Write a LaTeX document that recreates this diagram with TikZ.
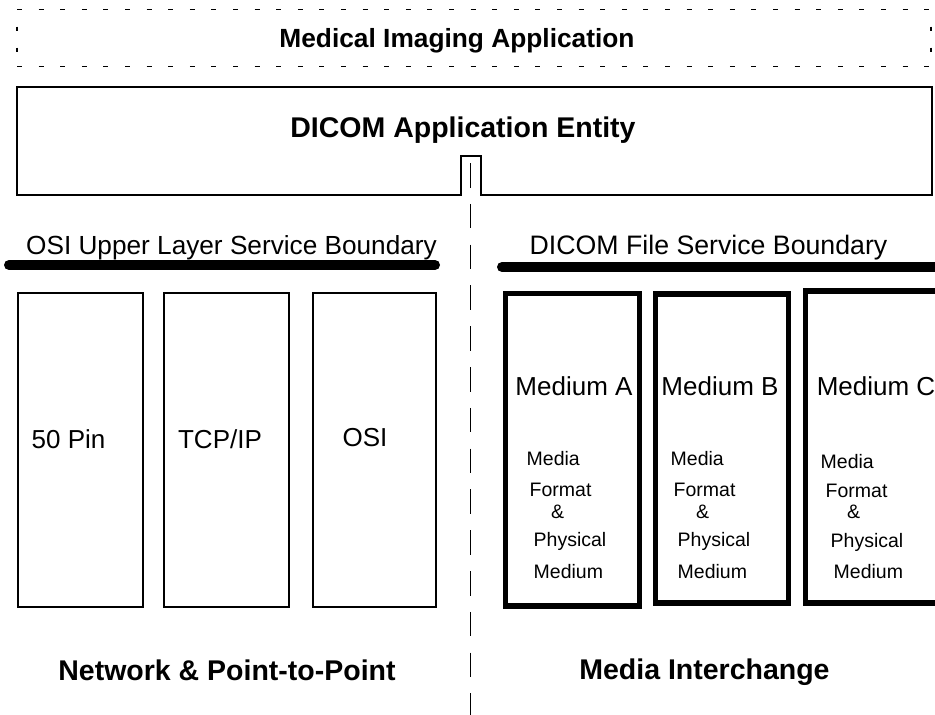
\documentclass[tikz,border=0pt]{standalone}
\usepackage{fontspec}
\setmainfont{Liberation Sans}
\begin{document}
\begin{tikzpicture}[x=1pt,y=-1pt,
  thinbox/.style={draw, line width=2pt},
  thickbox/.style={draw, line width=5.5pt},
  dashh/.style={line width=1.3pt, dash pattern=on 5pt off 16.6pt},
  dashv/.style={line width=1.3pt, dash pattern=on 4pt off 17pt, dash phase=4pt},
  boundary/.style={line width=10pt, line cap=round},
  divider/.style={line width=1.3pt, dash pattern=on 24.5pt off 16.3pt},
  titletext/.style={font=\fontsize{28.5}{34}\selectfont\bfseries, inner sep=0pt, anchor=base},
  bigtext/.style={font=\fontsize{26}{31}\selectfont, inner sep=0pt, anchor=base},
  smalltext/.style={font=\fontsize{19.5}{23}\selectfont, inner sep=0pt, anchor=base west}]
\clip (0,0) rectangle (935,715);
\fill[white] (0,0) rectangle (935,715);
% Medical Imaging Application (dashed)
\draw[dashh] (17,9.5) -- (932,9.5);
\draw[dashh] (17,66.5) -- (932,66.5);
\draw[dashv] (17,9.5) -- (17,66.5);
\draw[dashv] (931,9.5) -- (931,66.5);
\node[titletext, font=\fontsize{26.3}{31}\selectfont\bfseries] (mia) at (457,47.5) {Medical Imaging Application};
% DICOM Application Entity box with notch
\draw[thinbox] (17,87) -- (932,87) -- (932,195) -- (481,195) -- (481,156) -- (461,156) -- (461,195) -- (17,195) -- cycle;
\node[titletext] (ae) at (463,137) {DICOM Application Entity};
% divider
\coordinate (dtop) at (470.5,163);
\coordinate (dbot) at (470.5,715);
\draw[divider] (dtop) -- (dbot);
% boundaries
\coordinate (bl1) at (9,265); \coordinate (bl2) at (435,265);
\coordinate (br1) at (502,267); \coordinate (br2) at (945,267);
\draw[boundary] (bl1) -- (bl2);
\draw[boundary] (br1) -- (br2);
\node[bigtext, font=\fontsize{26.2}{31}\selectfont] (osiub) at (231.5,254) {OSI Upper Layer Service Boundary};
\node[bigtext, font=\fontsize{26.7}{31}\selectfont] (dfsb) at (708.5,254) {DICOM File Service Boundary};
% network boxes
\draw[thinbox] (18,293) rectangle (143,607);
\draw[thinbox] (164,293) rectangle (289,607);
\draw[thinbox] (313,293) rectangle (436,607);
\node[bigtext] (pin) at (68.5,448) {50 Pin};
\node[bigtext] (tcp) at (220,448) {TCP/IP};
\node[bigtext] (osi) at (365,446) {OSI};
% media boxes
\draw[thickbox] (505.5,293.5) rectangle (639.5,606);
\draw[thickbox] (655.5,294) rectangle (788.5,603);
\draw[thickbox] (805.5,291) rectangle (960,603);
\node[bigtext] (ma) at (574,395) {Medium A};
\node[bigtext] (mb) at (720,395) {Medium B};
\node[bigtext] (mc) at (876,395) {Medium C};
% small texts A
\node[smalltext] (a1) at (526.5,465) {Media};
\node[smalltext] (a2) at (529.5,496) {Format};
\node[smalltext] (a3) at (551,518) {\&};
\node[smalltext] (a4) at (533.5,546) {Physical};
\node[smalltext] (a5) at (533.5,578) {Medium};
% small texts B
\node[smalltext] (b1) at (670.5,465) {Media};
\node[smalltext] (b2) at (673.5,496) {Format};
\node[smalltext] (b3) at (696,518) {\&};
\node[smalltext] (b4) at (677.5,546) {Physical};
\node[smalltext] (b5) at (677.5,578) {Medium};
% small texts C
\node[smalltext] (c1) at (820.5,468) {Media};
\node[smalltext] (c2) at (825.5,497) {Format};
\node[smalltext] (c3) at (847,518) {\&};
\node[smalltext] (c4) at (830.5,547) {Physical};
\node[smalltext] (c5) at (833.5,578) {Medium};
% bottom labels
\node[titletext] (net) at (227,680) {Network \& Point-to-Point};
\node[titletext] (mi) at (704.5,679) {Media Interchange};
\end{tikzpicture}
\end{document}
